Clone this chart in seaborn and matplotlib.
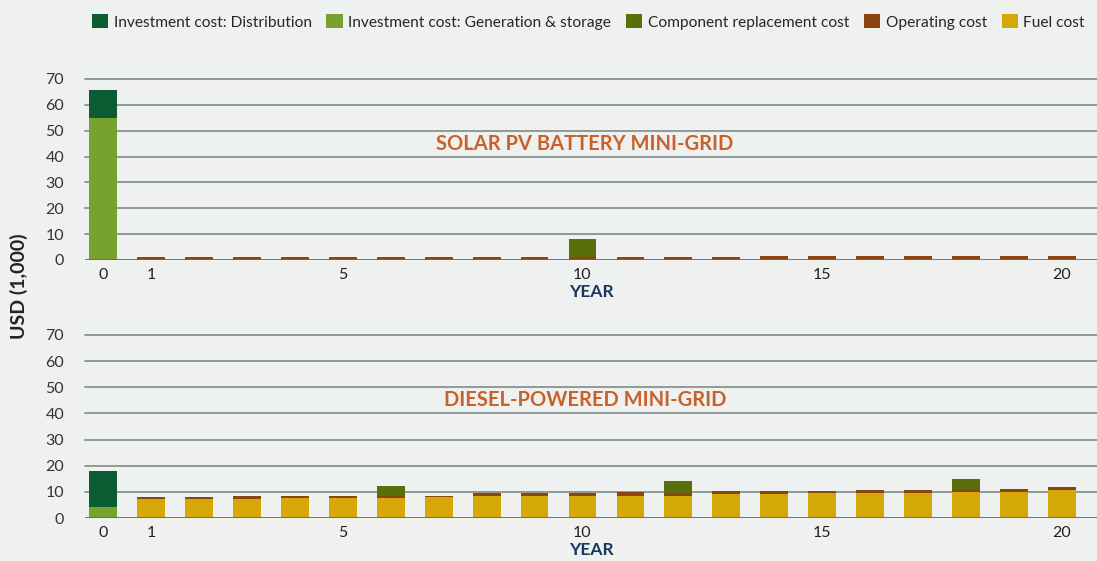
import matplotlib
matplotlib.use("Agg")
import matplotlib.pyplot as plt
from matplotlib.patches import Patch
import seaborn as sns
import pandas as pd
import numpy as np

years = list(range(21))
tick_years = [0, 1, 5, 10, 15, 20]

# solar PV battery mini-grid (USD 1,000)
solar_dist = [10.7] + [0] * 20
solar_gen = [55.0] + [0] * 20
solar_comp = [0, 0, 0, 0, 0, 0, 0, 0, 0, 0, 7.0, 0, 0, 0, 0, 0, 0, 0, 0, 0, 0]
solar_op = [0, 1.1, 1.1, 1.1, 1.1, 1.1, 1.1, 1.1, 1.1, 1.1, 1.1, 1.1, 1.1, 1.1,
            1.5, 1.5, 1.5, 1.5, 1.5, 1.5, 1.5]
solar_fuel = [0] * 21

# diesel-powered mini-grid (USD 1,000)
diesel_dist = [13.7] + [0] * 20
diesel_gen = [4.1] + [0] * 20
diesel_comp = [0, 0, 0, 0, 0, 0, 3.9, 0, 0, 0, 0, 0, 4.6, 0, 0, 0, 0, 0, 3.8, 0, 0]
diesel_op = [0, 0.7, 0.7, 1.1, 0.8, 0.8, 1.0, 0.7, 1.1, 1.1, 0.8, 1.2, 0.8, 1.1,
             1.1, 0.8, 1.2, 1.2, 1.2, 1.2, 1.1]
diesel_fuel = [0, 7.2, 7.2, 7.2, 7.5, 7.5, 7.5, 7.9, 8.3, 8.3, 8.6, 8.6, 8.6, 9.1,
               9.1, 9.4, 9.4, 9.4, 9.8, 9.8, 10.6]

labels = ["Investment cost: Distribution", "Investment cost: Generation & storage",
          "Component replacement cost", "Operating cost", "Fuel cost"]
colors = ["#0b5b33", "#78a22f", "#5b6e0c", "#8b4513", "#d3a807"]

bg = "#eff1f0"
sns.set_theme(style="white")
plt.rcParams["font.family"] = ["Lato", "DejaVu Sans"]

fig = plt.figure(figsize=(10.97, 5.61), dpi=100, facecolor=bg)
ax_top = fig.add_axes([0.0775, 1 - 260 / 561, 0.9225, 181 / 561])
ax_bot = fig.add_axes([0.0775, 1 - 518 / 561, 0.9225, 183 / 561])


def draw_panel(ax, dist, gen, comp, op, fuel, title):
    ax.set_facecolor(bg)
    # stack order bottom -> top: fuel, gen, operating, replacement, distribution
    stack = [fuel, gen, op, comp, dist]
    stack_colors = [colors[4], colors[1], colors[3], colors[2], colors[0]]
    cum = np.cumsum(np.array(stack, dtype=float), axis=0)
    for i in range(len(stack) - 1, -1, -1):
        df = pd.DataFrame({"year": years, "value": cum[i]})
        sns.barplot(data=df, x="year", y="value", color=stack_colors[i],
                    saturation=1, width=0.58, edgecolor="none", linewidth=0,
                    ax=ax, zorder=3)
    ax.set_ylim(0, 70)
    ax.set_xlim(-0.375, 20.73)
    ax.set_yticks([0, 10, 20, 30, 40, 50, 60, 70])
    ax.set_xticks(tick_years)
    ax.set_xticklabels([str(t) for t in tick_years])
    for y in [10, 20, 30, 40, 50, 60, 70]:
        ax.axhline(y, color="#87928f", lw=1.3, zorder=1, clip_on=False)
    ax.axhline(0, color="#5f6a6a", lw=2, zorder=4)
    for s in ax.spines.values():
        s.set_visible(False)
    ax.tick_params(axis="y", length=0, pad=15, labelsize=11.5, labelcolor="#333333")
    ax.tick_params(axis="x", length=0, pad=6, labelsize=11.5, labelcolor="#222222")
    ax.set_ylabel("")
    ax.set_xlabel("YEAR", fontsize=12.5, fontweight="bold", color="#17375e", labelpad=1)
    ax.text(10.05, 45, title, ha="center", va="center", fontsize=14.5,
            fontweight="bold", color="#c8622a")


draw_panel(ax_top, solar_dist, solar_gen, solar_comp, solar_op, solar_fuel,
           "SOLAR PV BATTERY MINI-GRID")
draw_panel(ax_bot, diesel_dist, diesel_gen, diesel_comp, diesel_op, diesel_fuel,
           "DIESEL-POWERED MINI-GRID")

fig.text(0.017, 0.49, "USD (1,000)", rotation=90, ha="center", va="center",
         fontsize=14, fontweight="bold", color="#222222")

handles = [Patch(facecolor=c, edgecolor="none") for c in colors]
fig.legend(handles, labels, loc="upper left", bbox_to_anchor=(0.071, 1.0), ncol=5,
           frameon=False, handlelength=1.05, handleheight=1.05, handletextpad=0.35,
           columnspacing=0.95, prop={"size": 11.2})

fig.savefig("out.png", dpi=100, facecolor=bg)
